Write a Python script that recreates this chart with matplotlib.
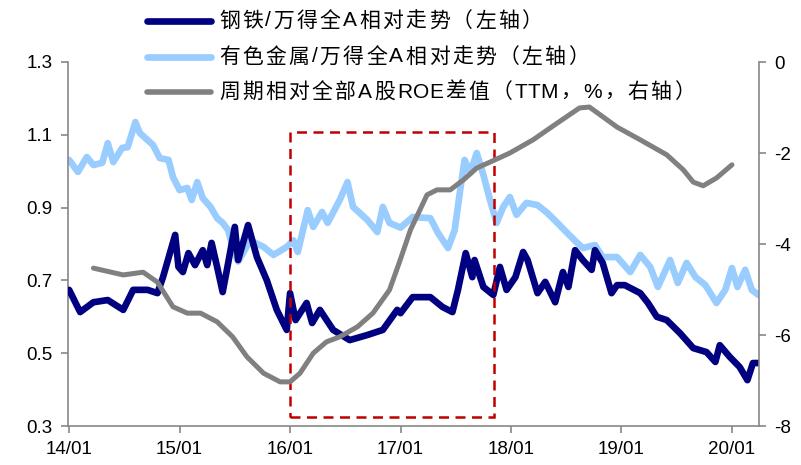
import matplotlib
matplotlib.use("Agg")
import matplotlib.pyplot as plt
from matplotlib.lines import Line2D
from matplotlib.patches import Rectangle

# 钢铁/万得全A (left axis), time in fractional years
steel_t = [2014.00, 2014.10, 2014.22, 2014.35, 2014.49, 2014.58, 2014.71, 2014.80, 2014.85,
           2014.96, 2014.99, 2015.03, 2015.08, 2015.14, 2015.21, 2015.25, 2015.29, 2015.34,
           2015.39, 2015.44, 2015.50, 2015.53, 2015.62, 2015.70, 2015.79, 2015.88, 2015.97,
           2016.00, 2016.05, 2016.15, 2016.20, 2016.27, 2016.39, 2016.54, 2016.70, 2016.84,
           2016.97, 2017.00, 2017.11, 2017.27, 2017.38, 2017.47, 2017.52, 2017.59, 2017.65,
           2017.67, 2017.75, 2017.84, 2017.90, 2017.96, 2018.04, 2018.11, 2018.15, 2018.24,
           2018.31, 2018.40, 2018.47, 2018.52, 2018.58, 2018.65, 2018.73, 2018.76, 2018.83,
           2018.91, 2018.96, 2019.03, 2019.17, 2019.24, 2019.32, 2019.41, 2019.53, 2019.65,
           2019.77, 2019.85, 2019.89, 2019.98, 2020.07, 2020.14, 2020.19, 2020.24]
steel_v = [0.674, 0.613, 0.640, 0.646, 0.619, 0.674, 0.674, 0.665, 0.709,
           0.825, 0.737, 0.723, 0.775, 0.742, 0.783, 0.742, 0.803, 0.737,
           0.668, 0.748, 0.847, 0.756, 0.852, 0.764, 0.700, 0.619, 0.564,
           0.665, 0.591, 0.638, 0.583, 0.619, 0.564, 0.536, 0.550, 0.564,
           0.619, 0.610, 0.654, 0.654, 0.627, 0.613, 0.674, 0.775, 0.709,
           0.756, 0.682, 0.660, 0.737, 0.674, 0.709, 0.778, 0.756, 0.665,
           0.696, 0.640, 0.723, 0.682, 0.783, 0.756, 0.729, 0.783, 0.748,
           0.665, 0.687, 0.687, 0.665, 0.638, 0.600, 0.591, 0.555, 0.514,
           0.503, 0.476, 0.522, 0.490, 0.462, 0.426, 0.473, 0.473]

# 有色金属/万得全A (left axis)
metal_t = [2014.00, 2014.08, 2014.16, 2014.22, 2014.30, 2014.35, 2014.40, 2014.48, 2014.53,
           2014.60, 2014.64, 2014.76, 2014.82, 2014.90, 2014.94, 2015.00, 2015.07, 2015.11,
           2015.16, 2015.21, 2015.28, 2015.34, 2015.39, 2015.44, 2015.48, 2015.53, 2015.64,
           2015.76, 2015.85, 2015.97, 2016.03, 2016.07, 2016.16, 2016.21, 2016.29, 2016.34,
           2016.45, 2016.52, 2016.57, 2016.70, 2016.79, 2016.84, 2016.90, 2017.00, 2017.11,
           2017.27, 2017.34, 2017.43, 2017.49, 2017.54, 2017.58, 2017.63, 2017.69, 2017.75,
           2017.81, 2017.87, 2017.93, 2017.99, 2018.05, 2018.14, 2018.24, 2018.33, 2018.42,
           2018.51, 2018.60, 2018.65, 2018.76, 2018.83, 2018.96, 2019.08, 2019.17, 2019.26,
           2019.33, 2019.44, 2019.51, 2019.59, 2019.67, 2019.76, 2019.86, 2019.94, 2020.00,
           2020.05, 2020.12, 2020.18, 2020.24]
metal_v = [1.031, 0.998, 1.039, 1.017, 1.023, 1.077, 1.025, 1.064, 1.066,
           1.135, 1.105, 1.072, 1.036, 1.031, 0.984, 0.948, 0.954, 0.921,
           0.970, 0.926, 0.902, 0.871, 0.858, 0.838, 0.792, 0.752, 0.810,
           0.792, 0.770, 0.792, 0.810, 0.778, 0.893, 0.847, 0.888, 0.858,
           0.921, 0.970, 0.902, 0.866, 0.833, 0.902, 0.858, 0.845, 0.874,
           0.871, 0.830, 0.789, 0.838, 0.948, 1.031, 0.995, 1.050, 0.990,
           0.921, 0.858, 0.902, 0.929, 0.880, 0.913, 0.907, 0.885, 0.858,
           0.830, 0.803, 0.789, 0.797, 0.764, 0.764, 0.723, 0.770, 0.737,
           0.682, 0.756, 0.693, 0.748, 0.709, 0.687, 0.638, 0.674, 0.734,
           0.682, 0.729, 0.674, 0.660]

# 周期相对全部A股ROE差值 (TTM, %, right axis)
roe_t = [2014.22, 2014.49, 2014.67, 2014.80, 2014.94, 2015.07, 2015.19, 2015.34, 2015.48,
         2015.61, 2015.76, 2015.91, 2016.00, 2016.09, 2016.21, 2016.33, 2016.45, 2016.61,
         2016.75, 2016.90, 2016.99, 2017.09, 2017.24, 2017.33, 2017.45, 2017.57, 2017.69,
         2017.81, 2017.99, 2018.20, 2018.42, 2018.62, 2018.71, 2018.96, 2019.17, 2019.41,
         2019.56, 2019.65, 2019.74, 2019.86, 2020.00]
roe_v = [-4.53, -4.68, -4.62, -4.84, -5.38, -5.52, -5.52, -5.71, -6.04,
         -6.48, -6.84, -7.03, -7.03, -6.84, -6.40, -6.15, -6.04, -5.82,
         -5.52, -5.01, -4.40, -3.69, -2.92, -2.81, -2.81, -2.59, -2.33,
         -2.20, -2.00, -1.71, -1.34, -1.01, -0.99, -1.43, -1.71, -2.04,
         -2.37, -2.64, -2.72, -2.55, -2.26]

x_ticks = [2014, 2015, 2016, 2017, 2018, 2019, 2020]
x_labels = ["14/01", "15/01", "16/01", "17/01", "18/01", "19/01", "20/01"]
left_ticks = [0.3, 0.5, 0.7, 0.9, 1.1, 1.3]
right_ticks = [-8, -6, -4, -2, 0]

legend_labels = ["钢铁/万得全A相对走势（左轴）",
                 "有色金属/万得全A相对走势（左轴）",
                 "周期相对全部A股ROE差值（TTM，%，右轴）"]

# highlighted window
box_x0, box_x1 = 2016.0, 2017.846
box_y0, box_y1 = 0.325, 1.107

C_STEEL = "#000080"
C_METAL = "#99CCFF"
C_ROE = "#808080"
C_BOX = "#C00000"
C_AXIS = "#888888"

FONTS = ["Liberation Sans", "Noto Sans CJK SC"]
plt.rcParams["font.family"] = FONTS

W, H = 801, 465
fig = plt.figure(figsize=(W / 100, H / 100), dpi=100)
ax = fig.add_axes([68 / W, 1 - 426 / H, (759 - 68) / W, (426 - 62) / H])
ax2 = ax.twinx()

ax.plot(metal_t, metal_v, color=C_METAL, lw=4.8, solid_joinstyle="round", solid_capstyle="round", zorder=2)
ax.plot(steel_t, steel_v, color=C_STEEL, lw=4.8, solid_joinstyle="round", solid_capstyle="round", zorder=3)
ax2.plot(roe_t, roe_v, color=C_ROE, lw=3.6, solid_joinstyle="round", solid_capstyle="round", zorder=3)

ax.add_patch(Rectangle((box_x0, box_y0), box_x1 - box_x0, box_y1 - box_y0,
                       fill=False, edgecolor=C_BOX, lw=1.8, linestyle=(0, (4, 2.6)), zorder=4))

ax.set_xlim(2013.99, 2020.245)
ax.set_ylim(0.3, 1.3)
ax2.set_ylim(-8, 0)

ax.set_xticks(x_ticks)
ax.set_xticklabels(x_labels)
ax.set_yticks(left_ticks)
ax.set_yticklabels([f"{v:.1f}" for v in left_ticks])
ax2.set_yticks(right_ticks)
ax2.set_yticklabels([str(v) for v in right_ticks])

for a in (ax, ax2):
    a.spines["top"].set_visible(False)
    for s in ("left", "right", "bottom"):
        a.spines[s].set_color(C_AXIS)
        a.spines[s].set_linewidth(1.2)
    a.tick_params(axis="both", direction="out", length=5, width=1.2, color=C_AXIS,
                  labelsize=13.5, labelcolor="#000000", pad=6)
ax.spines["right"].set_visible(False)
ax2.spines["left"].set_visible(False)
ax2.spines["bottom"].set_visible(False)


def tracked_text(x_px, y_px, s, size, track_px):
    """Draw a string one glyph at a time with extra spacing between glyphs,
    except inside runs of ASCII characters."""
    renderer = fig.canvas.get_renderer()
    x = x_px
    prev = None
    for ch in s:
        if prev is not None and not (prev.isascii() and ch.isascii()):
            x += track_px
        t = fig.text(x / W, 1 - y_px / H, ch, fontsize=size, va="center", ha="left",
                     color="#000000", family=FONTS)
        x += t.get_window_extent(renderer).width
        prev = ch


# legend drawn in figure coordinates
rows_y = [21, 57, 92]
colors = [C_STEEL, C_METAL, C_ROE]
widths = [4.8, 4.8, 4.0]
for y, c, w, lab in zip(rows_y, colors, widths, legend_labels):
    fy = 1 - y / H
    fig.add_artist(Line2D([147 / W, 211 / W], [fy, fy], color=c, lw=w,
                          solid_capstyle="round", transform=fig.transFigure))
    tracked_text(219, y, lab, 15, 2.3)

fig.savefig("out.png", dpi=100)
